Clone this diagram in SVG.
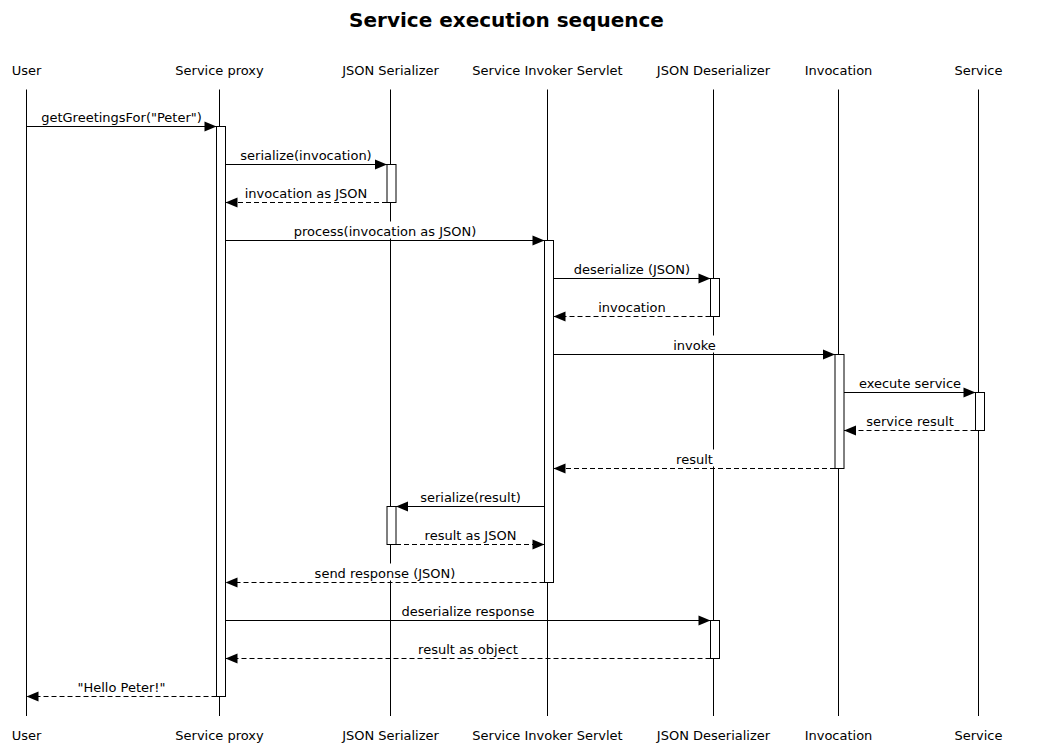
<svg xmlns="http://www.w3.org/2000/svg" width="1038" height="750" viewBox="0 0 1038 750">
<style>
text{font-family:"DejaVu Sans","Liberation Sans",sans-serif;font-size:13px;fill:#000;text-anchor:middle}
.title{font-size:20px;font-weight:bold}
.life{stroke:#000;stroke-width:1;fill:none}
.act{fill:#fff;stroke:#000;stroke-width:1}
.msg{stroke:#000;stroke-width:1;fill:none;marker-end:url(#ah)}
.ret{stroke-dasharray:5,3}
.bg{fill:#fff;stroke:none}
</style>
<defs>
<marker id="ah" markerUnits="userSpaceOnUse" markerWidth="12" markerHeight="10" refX="12" refY="5" orient="auto" overflow="visible">
<path d="M0,0 L12,5 L0,10 Z" fill="#000"/>
</marker>
</defs>
<rect width="1038" height="750" fill="#fff"/>
<text class="title" x="506.5" y="27">Service execution sequence</text>

<g id="user">
<line class="life" x1="26.5" y1="89.5" x2="26.5" y2="716"/>
<text x="26.5" y="75">User</text>
<text x="26.5" y="740">User</text>
</g>
<g id="service-proxy">
<line class="life" x1="219.5" y1="89.5" x2="219.5" y2="716"/>
<text x="219.5" y="75">Service proxy</text>
<text x="219.5" y="740">Service proxy</text>
<rect class="act" x="216.5" y="126.5" width="9" height="570"/>
</g>
<g id="json-serializer">
<line class="life" x1="390.5" y1="89.5" x2="390.5" y2="716"/>
<text x="390.5" y="75">JSON Serializer</text>
<text x="390.5" y="740">JSON Serializer</text>
<rect class="act" x="387" y="164.5" width="9" height="38"/>
<rect class="act" x="387" y="506.5" width="9" height="38"/>
</g>
<g id="service-invoker-servlet">
<line class="life" x1="547.5" y1="89.5" x2="547.5" y2="716"/>
<text x="547.5" y="75">Service Invoker Servlet</text>
<text x="547.5" y="740">Service Invoker Servlet</text>
<rect class="act" x="544.5" y="240.5" width="9" height="342"/>
</g>
<g id="json-deserializer">
<line class="life" x1="713.5" y1="89.5" x2="713.5" y2="716"/>
<text x="713.5" y="75">JSON Deserializer</text>
<text x="713.5" y="740">JSON Deserializer</text>
<rect class="act" x="710.5" y="278.5" width="9" height="38"/>
<rect class="act" x="710.5" y="620.5" width="9" height="38"/>
</g>
<g id="invocation">
<line class="life" x1="838.5" y1="89.5" x2="838.5" y2="716"/>
<text x="838.5" y="75">Invocation</text>
<text x="838.5" y="740">Invocation</text>
<rect class="act" x="835" y="354.5" width="9" height="114"/>
</g>
<g id="service">
<line class="life" x1="978.5" y1="89.5" x2="978.5" y2="716"/>
<text x="978.5" y="75">Service</text>
<text x="978.5" y="740">Service</text>
<rect class="act" x="975.5" y="392.5" width="9" height="38"/>
</g>

<g id="connectors">
<rect class="bg" x="39" y="107.5" width="165" height="17"/>
<text x="121.5" y="121.5">getGreetingsFor("Peter")</text>
<line class="msg" x1="26.5" y1="126.5" x2="216.5" y2="126.5"/>

<rect class="bg" x="239" y="145.5" width="134" height="17"/>
<text x="306" y="159.5">serialize(invocation)</text>
<line class="msg" x1="225.5" y1="164.5" x2="387" y2="164.5"/>

<rect class="bg" x="243" y="183.5" width="126" height="17"/>
<text x="306" y="197.5">invocation as JSON</text>
<line class="msg ret" x1="387" y1="202.5" x2="225.5" y2="202.5"/>

<rect class="bg" x="291" y="221.5" width="187" height="17"/>
<text x="385" y="235.5">process(invocation as JSON)</text>
<line class="msg" x1="225.5" y1="240.5" x2="544.5" y2="240.5"/>

<rect class="bg" x="572" y="259.5" width="120" height="17"/>
<text x="632" y="273.5">deserialize (JSON)</text>
<line class="msg" x1="553.5" y1="278.5" x2="710.5" y2="278.5"/>

<rect class="bg" x="596" y="297.5" width="72" height="17"/>
<text x="632" y="311.5">invocation</text>
<line class="msg ret" x1="710.5" y1="316.5" x2="553.5" y2="316.5"/>

<rect class="bg" x="671" y="335.5" width="47" height="17"/>
<text x="694.5" y="349.5">invoke</text>
<line class="msg" x1="553.5" y1="354.5" x2="835" y2="354.5"/>

<rect class="bg" x="857" y="373.5" width="107" height="17"/>
<text x="910" y="387.5">execute service</text>
<line class="msg" x1="844" y1="392.5" x2="975.5" y2="392.5"/>

<rect class="bg" x="864" y="411.5" width="92" height="17"/>
<text x="910" y="425.5">service result</text>
<line class="msg ret" x1="975.5" y1="430.5" x2="844" y2="430.5"/>

<rect class="bg" x="674" y="449.5" width="41" height="17"/>
<text x="694.5" y="463.5">result</text>
<line class="msg ret" x1="835" y1="468.5" x2="553.5" y2="468.5"/>

<rect class="bg" x="418" y="487.5" width="105" height="17"/>
<text x="470.5" y="501.5">serialize(result)</text>
<line class="msg" x1="544.5" y1="506.5" x2="396" y2="506.5"/>

<rect class="bg" x="422" y="525.5" width="96" height="17"/>
<text x="470.5" y="539.5">result as JSON</text>
<line class="msg ret" x1="396" y1="544.5" x2="544.5" y2="544.5"/>

<rect class="bg" x="312" y="563.5" width="145" height="17"/>
<text x="385" y="577.5">send response (JSON)</text>
<line class="msg ret" x1="544.5" y1="582.5" x2="225.5" y2="582.5"/>

<rect class="bg" x="399" y="601.5" width="138" height="17"/>
<text x="468" y="615.5">deserialize response</text>
<line class="msg" x1="225.5" y1="620.5" x2="710.5" y2="620.5"/>

<rect class="bg" x="416" y="639.5" width="104" height="17"/>
<text x="468" y="653.5">result as object</text>
<line class="msg ret" x1="710.5" y1="658.5" x2="225.5" y2="658.5"/>

<rect class="bg" x="75" y="677.5" width="93" height="17"/>
<text x="121.5" y="691.5">"Hello Peter!"</text>
<line class="msg ret" x1="216.5" y1="696.5" x2="26.5" y2="696.5"/>
</g>
</svg>
